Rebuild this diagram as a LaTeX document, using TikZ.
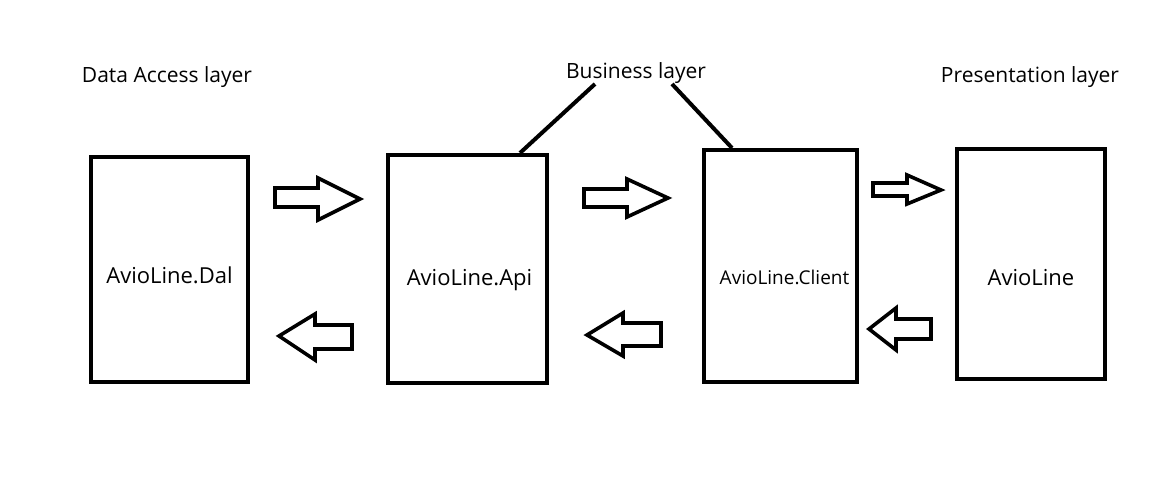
\documentclass[tikz,border=0pt]{standalone}
\usepackage{fontspec}
\setmainfont{Open Sans}
\usetikzlibrary{positioning,calc}

\begin{document}
\begin{tikzpicture}[
  x=1pt,y=-1pt,
  box/.style={draw=black,line width=4pt,rectangle,inner sep=0pt},
  blk/.style={draw=black,line width=3.6pt,fill=white,line join=miter},
  lead/.style={draw=black,line width=4pt},
  layer/.style={font=\fontsize{21}{24}\selectfont,inner sep=0pt,anchor=base},
  boxtxt/.style={font=\fontsize{22}{25}\selectfont,inner sep=0pt,anchor=base}
]
\useasboundingbox (0,0) rectangle (1152,494);

% ---- layer titles ----
\node[layer] (dalayer) at (167,83) {Data Access layer};
\node[layer] (bizlayer) at (636,79) {Business layer};
\node[layer] (prslayer) at (1030,83) {Presentation layer};

% ---- the four projects ----
\node[box,minimum width=157pt,minimum height=225pt] (dal) at (169.5,269.5) {};
\node[box,minimum width=159pt,minimum height=228pt] (api) at (467.5,269) {};
\node[box,minimum width=153pt,minimum height=232pt] (client) at (780.5,266) {};
\node[box,minimum width=148pt,minimum height=230pt] (app) at (1031,264) {};

\node[boxtxt] (daltxt) at ([yshift=-14.5]dal.center) {AvioLine.Dal};
\node[boxtxt] (apitxt) at ([xshift=2,yshift=-17]api.center) {AvioLine.Api};
\node[boxtxt,font=\fontsize{19}{22}\selectfont] (clienttxt) at ([xshift=4,yshift=-19]client.center) {AvioLine.Client};
\node[boxtxt] (apptxt) at ([yshift=-22]app.center) {AvioLine};

% ---- business layer leaders ----
\draw[lead] ($(bizlayer.base)+(-41,5)$) -- ($(api.north east)+(-29,0)$);
\draw[lead] ($(bizlayer.base)+(36,5)$) -- ($(client.north west)+(30,0)$);

% ---- requests (right) ----
\draw[blk] (275,188) -- (318,188) -- (318,178) -- (360,199) -- (318,220) -- (318,207) -- (275,207) -- cycle;
\draw[blk] (584,189) -- (627,189) -- (627,179) -- (668,198) -- (627,217) -- (627,207) -- (584,207) -- cycle;
\draw[blk] (873,183) -- (907,183) -- (907,175) -- (941,190) -- (907,204) -- (907,196) -- (873,196) -- cycle;

% ---- responses (left) ----
\draw[blk] (279,336) -- (315,314) -- (315,325) -- (352,325) -- (352,349) -- (315,349) -- (315,360) -- cycle;
\draw[blk] (587,335) -- (623,313) -- (623,323) -- (661,323) -- (661,346) -- (623,346) -- (623,356) -- cycle;
\draw[blk] (869,329) -- (896,308) -- (896,319) -- (931,319) -- (931,339) -- (896,339) -- (896,350) -- cycle;

\end{tikzpicture}
\end{document}
